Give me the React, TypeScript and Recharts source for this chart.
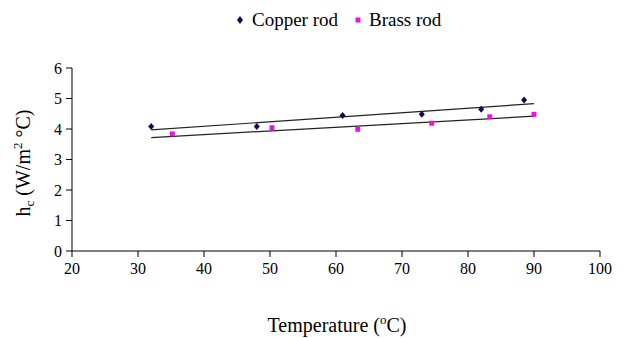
import React from 'react';
import { ComposedChart, XAxis, YAxis, Scatter, Line } from 'recharts';

const copperTemps = [32, 48, 61, 73, 82, 88.5];
const copperHc = [4.08, 4.08, 4.44, 4.48, 4.65, 4.95];
const brassTemps = [35.2, 50.3, 63.3, 74.5, 83.3, 90];
const brassHc = [3.84, 4.04, 3.99, 4.19, 4.4, 4.48];
const copperTrendX = [32, 90];
const copperTrendY = [3.97, 4.83];
const brassTrendX = [32, 90];
const brassTrendY = [3.72, 4.42];
const xTicks = [20, 30, 40, 50, 60, 70, 80, 90, 100];
const yTicks = [0, 1, 2, 3, 4, 5, 6];
const seriesNames = ['Copper rod', 'Brass rod'];

const copperData = copperTemps.map((x, i) => ({ x, y: copperHc[i] }));
const brassData = brassTemps.map((x, i) => ({ x, y: brassHc[i] }));
const copperTrend = copperTrendX.map((x, i) => ({ x, y: copperTrendY[i] }));
const brassTrend = brassTrendX.map((x, i) => ({ x, y: brassTrendY[i] }));

const COPPER = '#0a0a55';
const BRASS = '#ee11dd';
const FONT = '"Liberation Serif", "Times New Roman", serif';

const Diamond = (p: any) => {
  const { cx, cy } = p;
  if (cx == null || cy == null) return null;
  return <path d={`M${cx},${cy - 3.5}L${cx + 3},${cy}L${cx},${cy + 3.5}L${cx - 3},${cy}Z`} fill={COPPER} />;
};
const Square = (p: any) => {
  const { cx, cy } = p;
  if (cx == null || cy == null) return null;
  return <rect x={cx - 2.5} y={cy - 2.5} width={5} height={5} fill={BRASS} />;
};

const LegendBox = () => (
  <div style={{ position: 'absolute', left: 236, top: 8, fontFamily: FONT, fontSize: 19, lineHeight: '24px', color: '#000', display: 'flex', alignItems: 'center', whiteSpace: 'nowrap' }}>
    <svg width={8} height={10} style={{ marginRight: 8 }}>
      <path d="M4,1L7,5L4,9L1,5Z" fill={COPPER} />
    </svg>
    <span>{seriesNames[0]}</span>
    <svg width={8} height={10} style={{ marginLeft: 16, marginRight: 7 }}>
      <rect x={1.5} y={2.5} width={5} height={5} fill={BRASS} />
    </svg>
    <span>{seriesNames[1]}</span>
  </div>
);

const YLabel = () => {
  const cx = 30;
  const cy = 163;
  return (
    <text x={cx} y={cy} transform={`rotate(-90 ${cx} ${cy})`} textAnchor="middle" fontFamily={FONT} fontSize={20} fill="#000">
      h<tspan fontSize={13} dy={4}>c</tspan>
      <tspan dy={-4}> (W/m</tspan>
      <tspan fontSize={13} dy={-8}>2</tspan>
      <tspan dy={8}> °C)</tspan>
    </text>
  );
};

const XLabel = () => (
  <text x={337} y={332} textAnchor="middle" fontFamily={FONT} fontSize={20} fill="#000">
    Temperature (<tspan fontSize={13} dy={-8}>o</tspan>
    <tspan dy={8}>C)</tspan>
  </text>
);

export default function App() {
  return (
    <div style={{ position: 'absolute', left: 0, top: 0, width: 627, height: 338, background: '#fff' }}>
      <ComposedChart width={627} height={338} margin={{ top: 68, right: 27, bottom: 57, left: 0 }}>
        <XAxis
          type="number"
          dataKey="x"
          domain={[20, 100]}
          ticks={xTicks}
          interval={0}
          allowDataOverflow
          stroke="#000"
          tickSize={6}
          tickMargin={6}
          height={30}
          tick={{ fill: '#000', fontFamily: FONT, fontSize: 16 }}
          label={{ content: XLabel }}
        />
        <YAxis
          type="number"
          dataKey="y"
          domain={[0, 6]}
          ticks={yTicks}
          interval={0}
          allowDataOverflow
          stroke="#000"
          width={72}
          tickSize={6}
          tickMargin={4}
          tick={{ fill: '#000', fontFamily: FONT, fontSize: 16 }}
          label={{ content: YLabel }}
        />
        <Line data={copperTrend} dataKey="y" type="linear" stroke="#222" strokeWidth={1.2} dot={false} activeDot={false} isAnimationActive={false} legendType="none" />
        <Line data={brassTrend} dataKey="y" type="linear" stroke="#222" strokeWidth={1.2} dot={false} activeDot={false} isAnimationActive={false} legendType="none" />
        <Scatter name={seriesNames[0]} data={copperData} shape={Diamond} isAnimationActive={false} />
        <Scatter name={seriesNames[1]} data={brassData} shape={Square} isAnimationActive={false} />
      </ComposedChart>
      <LegendBox />
    </div>
  );
}
